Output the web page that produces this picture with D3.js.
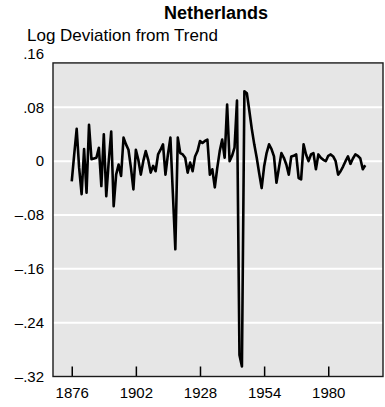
<!DOCTYPE html>
<html>
<head>
<meta charset="utf-8">
<script src="https://cdn.jsdelivr.net/npm/d3@7"></script>
<style>
  html, body { margin: 0; padding: 0; background: #ffffff; }
  svg { display: block; }
  text { font-family: "Liberation Sans", Arial, Helvetica, sans-serif; fill: #000; }
</style>
</head>
<body>
<svg id="chart" width="385" height="407"></svg>
<script>
// ---- data ----
const title = "Netherlands";
const yAxisTitle = "Log Deviation from Trend";
const startYear = 1876;
const values = [
  -0.030, 0.010, 0.048, -0.010, -0.049, 0.018, -0.047, 0.054, 0.003, 0.004,   // 1876-1885
   0.005, 0.020, -0.037, 0.040, -0.052, 0.000, 0.044, -0.067, -0.020, -0.005,  // 1886-1895
  -0.022, 0.035, 0.025, 0.017, -0.010, -0.042, 0.017, 0.002, -0.020, 0.000,    // 1896-1905
   0.015, 0.002, -0.017, -0.007, -0.015, 0.010, 0.017, 0.025, -0.020, 0.010,   // 1906-1915
   0.035, -0.048, -0.131, 0.035, 0.012, 0.010, 0.005, -0.017, -0.002, -0.015,  // 1916-1925
   0.007, 0.015, 0.030, 0.027, 0.030, 0.032, -0.020, -0.012, -0.039, -0.010,   // 1926-1935
   0.015, 0.032, 0.005, 0.084, 0.000, 0.008, 0.020, 0.090, -0.288, -0.305,     // 1936-1945
   0.104, 0.101, 0.075, 0.048, 0.025, 0.005, -0.018, -0.040, -0.008, 0.012,    // 1946-1955
   0.025, 0.018, 0.007, -0.032, -0.010, 0.012, 0.005, -0.005, -0.020, 0.007,   // 1956-1965
   0.008, 0.010, -0.025, -0.027, 0.025, 0.010, 0.000, 0.010, 0.012, -0.012,    // 1966-1975
   0.010, 0.005, 0.002, 0.000, 0.008, 0.010, 0.007, 0.000, -0.020, -0.015,     // 1976-1985
  -0.008, 0.000, 0.007, -0.004, 0.004, 0.010, 0.008, 0.004, -0.012, -0.006     // 1986-1995
];
const years = values.map((v, i) => startYear + i);
const yTicks = [0.16, 0.08, 0, -0.08, -0.16, -0.24, -0.32];
const xTicks = [1876, 1902, 1928, 1954, 1980];

// ---- layout ----
const svg = d3.select("#chart");
const frameTopValue = 0.146;   // the shaded frame stops a little below the .16 label
const plot = { left: 53, right: 383 };

const x = d3.scaleLinear().domain([1868.4, 2002.2]).range([plot.left, plot.right]);
const y = d3.scaleLinear().domain([-0.32, 0.16]).range([376.5, 53.5]);
const frameTop = y(frameTopValue);
const frameBottom = y(-0.32);

const fmtY = v => {
  if (v === 0) return "0";
  const s = Math.abs(v).toFixed(2).replace(/^0/, "");
  return (v < 0 ? "\u2013" : "") + s;
};

// background
svg.append("rect")
  .attr("x", plot.left).attr("y", frameTop)
  .attr("width", plot.right - plot.left).attr("height", frameBottom - frameTop)
  .attr("fill", "#e6e6e6");

// gridlines
svg.append("g").selectAll("line")
  .data(yTicks.filter(t => t < frameTopValue && t > -0.32))
  .join("line")
  .attr("x1", plot.left).attr("x2", plot.right)
  .attr("y1", d => y(d)).attr("y2", d => y(d))
  .attr("stroke", "#ffffff").attr("stroke-width", 2);

// x ticks (inward) and labels
const xAxis = d3.axisBottom(x).tickValues(xTicks).tickFormat(d3.format("d")).tickSize(-10).tickPadding(11);
const gx = svg.append("g").attr("transform", `translate(0,${frameBottom})`).call(xAxis);
gx.select(".domain").remove();
gx.selectAll(".tick line").attr("stroke", "#000").attr("stroke-width", 1.5);
gx.selectAll(".tick text").attr("font-size", 15).attr("font-family", "Liberation Sans, Arial, sans-serif").attr("fill", "#000");

// y labels
const yAxis = d3.axisLeft(y).tickValues(yTicks).tickFormat(fmtY).tickSize(0).tickPadding(9);
const gy = svg.append("g").attr("transform", `translate(${plot.left},0)`).call(yAxis);
gy.select(".domain").remove();
gy.selectAll(".tick text").attr("font-size", 15).attr("font-family", "Liberation Sans, Arial, sans-serif").attr("fill", "#000");

// data line
const line = d3.line().x((d, i) => x(years[i])).y(d => y(d));
svg.append("path")
  .datum(values)
  .attr("d", line)
  .attr("fill", "none")
  .attr("stroke", "#000")
  .attr("stroke-width", 2.6)
  .attr("stroke-linejoin", "round");

// frame
svg.append("rect")
  .attr("x", plot.left).attr("y", frameTop)
  .attr("width", plot.right - plot.left).attr("height", frameBottom - frameTop)
  .attr("fill", "none").attr("stroke", "#1a1a1a").attr("stroke-width", 1.4);

// titles
svg.append("text")
  .attr("x", 216).attr("y", 19)
  .attr("text-anchor", "middle")
  .attr("font-size", 18).attr("font-weight", "bold")
  .text(title);
svg.append("text")
  .attr("x", 27).attr("y", 41)
  .attr("font-size", 17)
  .text(yAxisTitle);
</script>
</body>
</html>
